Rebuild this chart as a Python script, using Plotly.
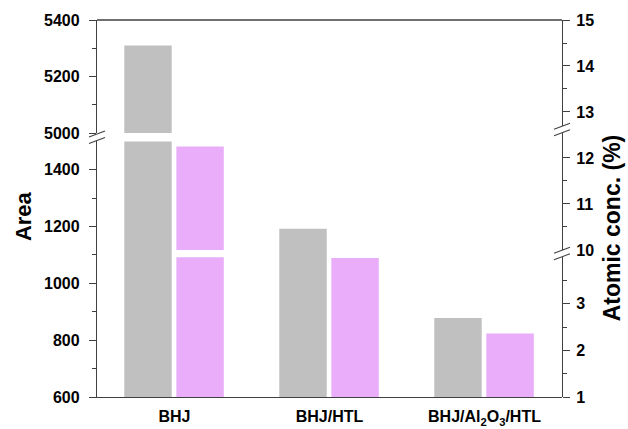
import plotly.graph_objects as go

# Samples and measured values
categories = ["BHJ", "BHJ/HTL", "BHJ/Al<sub>2</sub>O<sub>3</sub>/HTL"]
area = [5310, 1192, 878]          # peak area (left axis)
atomic_conc = [12.25, 3.98, 2.36]  # atomic concentration, % (right axis)

# Axis tick positions for each segment of the broken axes
area_low_ticks = [600, 800, 1000, 1200, 1400]
area_low_minor = [700, 900, 1100, 1300]
area_high_ticks = [5000, 5200, 5400]
area_high_minor = [5100, 5300]
conc_low_ticks = [1, 2, 3]
conc_low_minor = [1.5, 2.5, 3.5]
conc_high_ticks = [10, 11, 12, 13, 14, 15]
conc_high_minor = [10.5, 11.5, 13.5, 14.5]

GRAY = "#C0C0C0"
PINK = "#EAADFA"
AXIS = "#404040"
FONT = "Liberation Sans, Arial, sans-serif"

BAR_W = 0.306

fig = go.Figure()

# Gray bars on both segments of the left axis (clipped by each segment)
for ya in ["y", "y2"]:
    fig.add_trace(go.Bar(
        x=categories, y=area, xaxis="x", yaxis=ya,
        width=BAR_W, offset=-0.324,
        marker=dict(color=GRAY, line=dict(width=0)),
        showlegend=False, hoverinfo="skip",
    ))

# Pink bars on both segments of the right axis
for ya in ["y3", "y4"]:
    fig.add_trace(go.Bar(
        x=categories, y=atomic_conc, xaxis="x", yaxis=ya,
        width=BAR_W, offset=0.012,
        marker=dict(color=PINK, line=dict(width=0)),
        showlegend=False, hoverinfo="skip",
    ))


def yax(domain, rng, ticks, minor, side, standoff):
    return dict(
        domain=domain, range=rng, anchor="x", side=side,
        tickvals=ticks, ticks="outside", ticklen=7, tickwidth=1.2,
        tickcolor=AXIS, showline=True, linecolor=AXIS, linewidth=1.3,
        showgrid=False, zeroline=False, automargin=False,
        ticklabelstandoff=standoff,
        tickfont=dict(family=FONT, size=16, color="black", weight="bold"),
        minor=dict(tickvals=minor, ticks="outside", ticklen=4,
                   tickwidth=1.2, tickcolor=AXIS, showgrid=False),
    )


fig.update_layout(
    width=628, height=429,
    margin=dict(l=97, r=66, t=20, b=32),
    paper_bgcolor="white",
    plot_bgcolor="rgba(0,0,0,0)",
    barmode="overlay",
    showlegend=False,
    xaxis=dict(
        type="category", range=[-0.5, 2.5], anchor="y",
        showline=True, linecolor=AXIS, linewidth=1.3,
        ticks="", showgrid=False, zeroline=False, automargin=False,
        ticklabelstandoff=5,
        tickfont=dict(family=FONT, size=16, color="black", weight="bold"),
    ),
    yaxis=yax([0, 0.678], [600, 1500], area_low_ticks, area_low_minor, "left", 6),
    yaxis2=yax([0.70, 1], [5000, 5400], area_high_ticks, area_high_minor, "left", 6),
    yaxis3=yax([0, 0.371], [1, 4], conc_low_ticks, conc_low_minor, "right", 3),
    yaxis4=yax([0.39, 1], [10, 15], conc_high_ticks, conc_high_minor, "right", 3),
)

# Top frame line
fig.add_shape(type="line", xref="paper", yref="paper", x0=0, x1=1, y0=1, y1=1,
              line=dict(color=AXIS, width=1.3), layer="above")


def axis_break(xpos, ypos):
    """Double-slash break symbol centred on an axis line."""
    fig.add_shape(type="path", xref="paper", yref="paper",
                  xsizemode="pixel", ysizemode="pixel",
                  xanchor=xpos, yanchor=ypos,
                  path="M-8,-6.3 L8,-0.3 L8,6.3 L-8,0.3 Z",
                  fillcolor="white", line=dict(width=0), layer="above")
    for dy in (-3.3, 3.3):
        fig.add_shape(type="line", xref="paper", yref="paper",
                      xsizemode="pixel", ysizemode="pixel",
                      xanchor=xpos, yanchor=ypos,
                      x0=-8, x1=8, y0=dy - 3, y1=dy + 3,
                      line=dict(color=AXIS, width=1.1), layer="above")


axis_break(0, 0.689)
axis_break(1, 0.3805)
axis_break(1, 0.7096)

# Axis titles
fig.add_annotation(text="<b>Area</b>", xref="paper", yref="paper",
                   x=-0.159, y=0.48, textangle=-90, showarrow=False,
                   xanchor="center", yanchor="middle",
                   font=dict(family=FONT, size=22, color="black"))
fig.add_annotation(text="<b>Atomic conc. (%)</b>", xref="paper", yref="paper",
                   x=1.108, y=0.448, textangle=-90, showarrow=False,
                   xanchor="center", yanchor="middle",
                   font=dict(family=FONT, size=23, color="black"))

fig.write_html("out.html")
